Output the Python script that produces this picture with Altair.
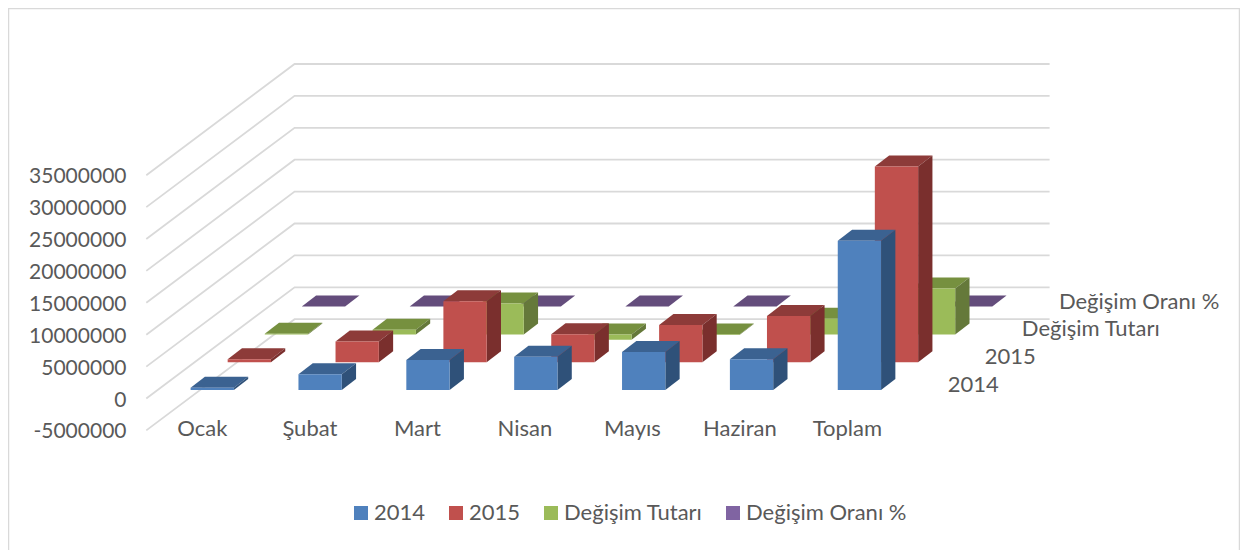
import altair as alt
import pandas as pd

categories = ["Ocak", "Şubat", "Mart", "Nisan", "Mayıs", "Haziran", "Toplam"]
series_names = ["2014", "2015", "Değişim Tutarı", "Değişim Oranı %"]
v2014 = [360000, 2460000, 4700000, 5220000, 5960000, 4810000, 23400000]
v2015 = [470000, 3230000, 9570000, 4390000, 5850000, 7260000, 30660000]
vTutar = [110000, 740000, 4850000, -830000, -110000, 2460000, 7200000]
vOran = [0, 0, 0, 0, 0, 0, 0]
all_values = [v2014, v2015, vTutar, vOran]
ticks = [-5000000, 0, 5000000, 10000000, 15000000, 20000000, 25000000, 30000000, 35000000]

front_colors = ["#4F81BD", "#C0504D", "#9BBB59", "#8064A2"]
side_colors = ["#2F5179", "#7A2F2D", "#65793A", "#523F6A"]
top_colors = ["#3B6291", "#8D3B39", "#76903F", "#644D7C"]

W, H = 1232, 542
PX_CAT = 107.86
PX_UNIT = 31.9 / 5000000
X0 = 146.3 - 8
Y0 = 398.5 - 8
DEPTH_X = 37.07 / PX_CAT
DEPTH_Y = 27.8 / PX_UNIT
INSET_X = 44.3 / PX_CAT
INSET_Y = 8.5 / PX_UNIT
BAR_W = 43.3 / PX_CAT
BAR_DX = 14.3 / PX_CAT
BAR_DY = 11.0 / PX_UNIT
FONT = "Lato"
TXT = "#595959"
FS = 22

xs = alt.Scale(domain=[-X0 / PX_CAT, (W - X0) / PX_CAT], nice=False, zero=False)
ys = alt.Scale(domain=[-(H - Y0) / PX_UNIT, Y0 / PX_UNIT], nice=False, zero=False)
y_axis = alt.Axis(values=ticks, domain=False, ticks=False, grid=False, title=None,
                  offset=-118, labelPadding=0, labelFont=FONT, labelFontSize=21, labelColor=TXT,
                  labelOffset=1.5, labelExpr="'' + datum.value", labelFlush=False,
                  labelOverlap=False, labelLimit=200)
X = lambda f: alt.X(f, type="quantitative", scale=xs, axis=None)
Y = lambda f: alt.Y(f, type="quantitative", scale=ys, axis=y_axis, title=None)

grid = []
for t in ticks:
    for k, (gx, d) in enumerate([(0, 0), (4 * DEPTH_X, 4), (7 + 4 * DEPTH_X, 4)]):
        grid.append({"t": t, "k": k, "x": gx, "y": t + d * DEPTH_Y})
grid_layer = alt.Chart(pd.DataFrame(grid)).mark_line(color="#D9D9D9", strokeWidth=1.8).encode(
    x=X("x"), y=Y("y"), detail="t:N", order="k:Q")

layers = [grid_layer]
color_scale = alt.Scale(domain=series_names, range=front_colors)

for s in [3, 2, 1, 0]:
    name, values = series_names[s], all_values[s]
    fr, sd, tp = [], [], []
    for c, v in enumerate(values):
        x0 = c + INSET_X + s * DEPTH_X
        x1 = x0 + BAR_W
        base = s * DEPTH_Y + INSET_Y
        hi, lo = base + max(v, 0), base + min(v, 0)
        fr.append({"series": name, "x": x0, "x2": x1, "y": hi, "y2": lo})
        sd += [{"c": c, "x": x1, "y": hi, "y2": lo},
               {"c": c, "x": x1 + BAR_DX, "y": hi + BAR_DY, "y2": lo + BAR_DY}]
        tp += [{"c": c, "y": hi, "x": x0, "x2": x1},
               {"c": c, "y": hi + BAR_DY, "x": x0 + BAR_DX, "x2": x1 + BAR_DX}]
    layers.append(alt.Chart(pd.DataFrame(tp)).mark_area(orient="horizontal", color=top_colors[s]).encode(
        y=Y("y"), x=X("x"), x2=alt.X2("x2"), detail="c:N"))
    layers.append(alt.Chart(pd.DataFrame(sd)).mark_area(color=side_colors[s]).encode(
        x=X("x"), y=Y("y"), y2=alt.Y2("y2"), detail="c:N"))
    layers.append(alt.Chart(pd.DataFrame(fr)).mark_rect().encode(
        x=X("x"), x2=alt.X2("x2"), y=Y("y"), y2=alt.Y2("y2"),
        color=alt.Color("series:N", scale=color_scale, sort=series_names, legend=alt.Legend(
            title=None, orient="none", direction="horizontal", legendX=342, legendY=494,
            symbolType="square", symbolSize=196, symbolStrokeWidth=0, columnPadding=19,
            labelFont=FONT, labelFontSize=FS, labelColor=TXT, labelOffset=2, labelLimit=300,
            values=series_names))))

cat_df = pd.DataFrame({"label": categories, "x": [0.52 + i * 0.9966 for i in range(7)], "y": [-4850000] * 7})
layers.append(alt.Chart(cat_df).mark_text(font=FONT, fontSize=FS, color=TXT, align="center", baseline="middle").encode(
    x=X("x"), y=Y("y"), text="label:N"))

ser_df = pd.DataFrame({"label": series_names,
                       "x": [7.43 + s * DEPTH_X for s in range(4)],
                       "y": [2116000 + s * DEPTH_Y for s in range(4)]})
layers.append(alt.Chart(ser_df).mark_text(font=FONT, fontSize=FS, color=TXT, align="left", baseline="middle").encode(
    x=X("x"), y=Y("y"), text="label:N"))

one = pd.DataFrame({"a": [0]})
frame = [
    alt.Chart(one).mark_rule(color="#D9D9D9", strokeWidth=1.5).encode(x=alt.value(0.5), y=alt.value(0), y2=alt.value(H)),
    alt.Chart(one).mark_rule(color="#D9D9D9", strokeWidth=1.5).encode(x=alt.value(W - 0.5), y=alt.value(0), y2=alt.value(H)),
    alt.Chart(one).mark_rule(color="#D9D9D9", strokeWidth=1.5).encode(y=alt.value(0.5), x=alt.value(0), x2=alt.value(W)),
]

chart = alt.layer(*layers, *frame).properties(
    width=W, height=H, padding=0, background="white",
    autosize=alt.AutoSizeParams(type="none", contains="padding"),
).configure_view(stroke=None)

chart.save("out.html", embed_options={"renderer": "svg", "actions": False})
